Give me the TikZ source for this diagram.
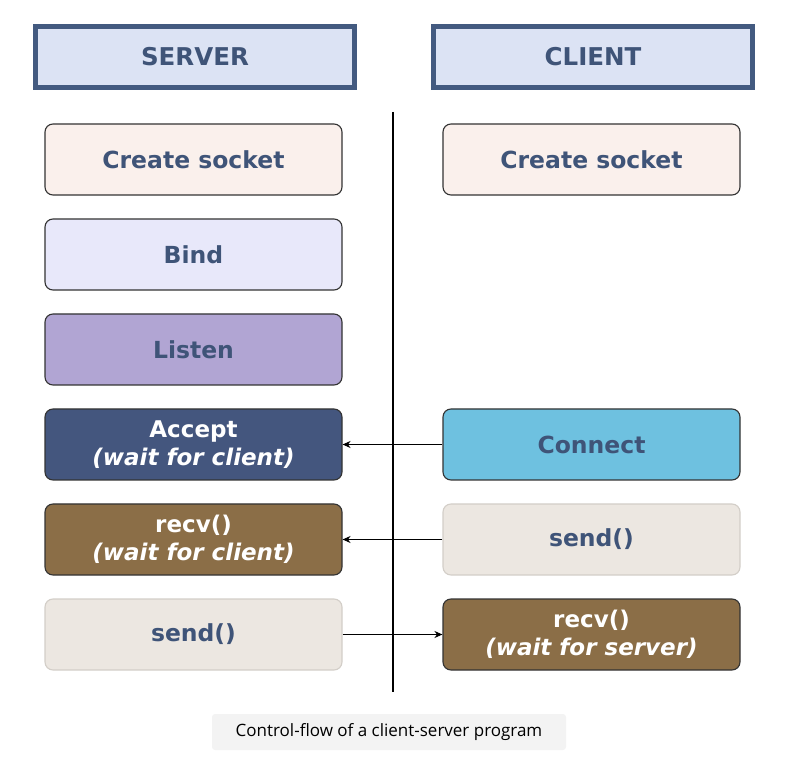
\documentclass[tikz,border=0pt]{standalone}
\usepackage{fontspec}
\setmainfont{DejaVu Sans}
\newfontfamily\capfont{Open Sans}
\usetikzlibrary{arrows.meta,positioning}
\definecolor{hdrblue}{HTML}{435A80}
\definecolor{hdrbg}{HTML}{DCE3F4}
\definecolor{txtblue}{HTML}{3F5478}
\definecolor{sockbg}{HTML}{FAF0EC}
\definecolor{bindbg}{HTML}{E8E8FA}
\definecolor{listenbg}{HTML}{B1A5D3}
\definecolor{acceptbg}{HTML}{44567E}
\definecolor{connbg}{HTML}{6EC1E0}
\definecolor{recvbg}{HTML}{8B6E47}
\definecolor{sendbg}{HTML}{ECE7E1}
\definecolor{sendline}{HTML}{D3CEC8}
\definecolor{capbg}{HTML}{F3F3F3}
\definecolor{boxline}{HTML}{333333}

\begin{document}
\begin{tikzpicture}[x=1pt, y=-1pt,
    hdr/.style={draw=hdrblue, line width=5pt, fill=hdrbg,
                minimum width=319pt, minimum height=61pt,
                font=\fontsize{24.5}{28}\selectfont\bfseries, text=txtblue},
    stepbox/.style={draw=boxline, line width=1.1pt, rounded corners=8pt,
                minimum width=297pt, minimum height=71pt, align=center,
                font=\fontsize{23.5}{28}\selectfont\bfseries, text=txtblue},
    waitbox/.style={stepbox, text=white, font=\fontsize{23}{28}\selectfont\bfseries},
    sendbox/.style={stepbox, draw=sendline, fill=sendbg},
    arr/.style={-{Stealth[length=8pt,width=7pt]}, line width=1pt, color=black}
  ]
    \useasboundingbox (0,0) rectangle (788,767);
    % headers
    \node[hdr] (srv) at (195,57) {SERVER};
    \node[hdr] (cli) at (593,57) {CLIENT};
    % divider
    \coordinate (top) at (393,112);
    \coordinate (bot) at (393,692);
    \draw[line width=2pt] (top) -- (bot);
    % server side
    \node[stepbox, fill=sockbg] (c1) at (193.5,159.5) {Create socket};
    \node[stepbox, fill=bindbg, below=22.9pt of c1] (c2) {Bind};
    \node[stepbox, fill=listenbg, below=22.9pt of c2] (c3) {Listen};
    \node[waitbox, fill=acceptbg, below=22.9pt of c3] (c4) {Accept\\ \itshape(wait for client)};
    \node[waitbox, fill=recvbg, below=22.9pt of c4] (c5) {recv()\\ \itshape(wait for client)};
    \node[sendbox, below=22.9pt of c5] (c6) {send()};
    % client side
    \node[stepbox, fill=sockbg, right=99.9pt of c1] (s1) {Create socket};
    \node[stepbox, fill=connbg, right=99.9pt of c4] (s4) {Connect};
    \node[sendbox, right=99.9pt of c5] (s5) {send()};
    \node[waitbox, fill=recvbg, right=99.9pt of c6] (s6) {recv()\\ \itshape(wait for server)};
    \draw[arr] (s4) -- (c4);
    \draw[arr] (s5) -- (c5);
    \draw[arr] (c6) -- (s6);
    % caption
    \node[fill=capbg, rounded corners=3pt, minimum width=354pt, minimum height=36pt,
          font=\capfont\fontsize{17}{20}\selectfont] (cap) at (389,732)
          {Control-flow of a client-server program};
  \end{tikzpicture}
\end{document}
